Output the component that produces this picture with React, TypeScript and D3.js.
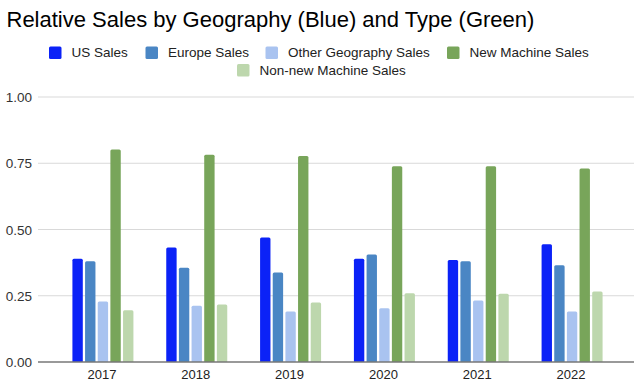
import React from 'react';
import * as d3 from 'd3';

const years = ['2017', '2018', '2019', '2020', '2021', '2022'];
const seriesNames = ['US Sales', 'Europe Sales', 'Other Geography Sales', 'New Machine Sales', 'Non-new Machine Sales'];
const usSales = [0.39, 0.432, 0.47, 0.39, 0.385, 0.444];
const europeSales = [0.38, 0.356, 0.338, 0.406, 0.38, 0.365];
const otherSales = [0.228, 0.212, 0.191, 0.203, 0.232, 0.191];
const newMachineSales = [0.802, 0.782, 0.777, 0.739, 0.739, 0.73];
const nonNewMachineSales = [0.195, 0.217, 0.225, 0.259, 0.258, 0.266];
const yTicks = [0, 0.25, 0.5, 0.75, 1.0];

const colors = ['#0b22f7', '#4a86c4', '#a9c3f0', '#78a55a', '#bdd7ad'];

const width = 640;
const height = 390;
const font = '"Liberation Sans", Arial, sans-serif';

export default function App() {
  const series = [usSales, europeSales, otherSales, newMachineSales, nonNewMachineSales];

  const x = d3.scaleBand().domain(years).range([56, 619]);
  const inner = d3.scaleBand().domain(seriesNames).range([0, 61]).paddingInner(0.18);
  const y = d3.scaleLinear().domain([0, 1]).range([362, 97]);
  const groupOffset = (x.bandwidth() - 61) / 2;

  // legend layout (two centered rows)
  const legendRow1 = [
    { name: seriesNames[0], x: 49, c: colors[0] },
    { name: seriesNames[1], x: 145.5, c: colors[1] },
    { name: seriesNames[2], x: 265.5, c: colors[2] },
    { name: seriesNames[3], x: 447, c: colors[3] },
  ];
  const legendRow2 = [{ name: seriesNames[4], x: 237, c: colors[4] }];

  return (
    <svg width={width} height={height} style={{ position: 'absolute', left: 0, top: 0, background: '#fff' }}>
      <rect width={width} height={height} fill="#fff" />
      <text x={6.5} y={27} fontFamily={font} fontSize={22} fill="#000">
        Relative Sales by Geography (Blue) and Type (Green)
      </text>

      {[legendRow1, legendRow2].map((row, ri) =>
        row.map((it) => (
          <g key={it.name} transform={`translate(${it.x},${ri === 0 ? 46.5 : 64})`}>
            <rect width={12.5} height={12.5} rx={1.5} fill={it.c} />
            <text x={22.5} y={10.5} fontFamily={font} fontSize={13.5} fill="#222">
              {it.name}
            </text>
          </g>
        ))
      )}

      {yTicks.map((t) => (
        <g key={t}>
          {t > 0 && <line x1={38} x2={634} y1={y(t)} y2={y(t)} stroke="#d9d9d9" strokeWidth={1} />}
          <text x={32} y={y(t) + 5} textAnchor="end" fontFamily={font} fontSize={13.5} fill="#333">
            {d3.format('.2f')(t)}
          </text>
        </g>
      ))}

      {years.map((yr, i) => (
        <g key={yr} transform={`translate(${(x(yr) ?? 0) + groupOffset},0)`}>
          {series.map((vals, si) => (
            <path
              key={si}
              d={(() => {
                const bx = inner(seriesNames[si]) ?? 0;
                const bw = inner.bandwidth();
                const top = y(vals[i]);
                const bot = y(0);
                const r = 1.5;
                return `M${bx},${bot}V${top + r}Q${bx},${top} ${bx + r},${top}H${bx + bw - r}Q${bx + bw},${top} ${bx + bw},${top + r}V${bot}Z`;
              })()}
              fill={colors[si]}
            />
          ))}
        </g>
      ))}

      <line x1={38} x2={634} y1={y(0)} y2={y(0)} stroke="#777" strokeWidth={1.3} />

      {years.map((yr) => (
        <text
          key={yr}
          x={(x(yr) ?? 0) + x.bandwidth() / 2 - 1}
          y={379}
          textAnchor="middle"
          fontFamily={font}
          fontSize={13}
          fill="#222"
        >
          {yr}
        </text>
      ))}
    </svg>
  );
}
